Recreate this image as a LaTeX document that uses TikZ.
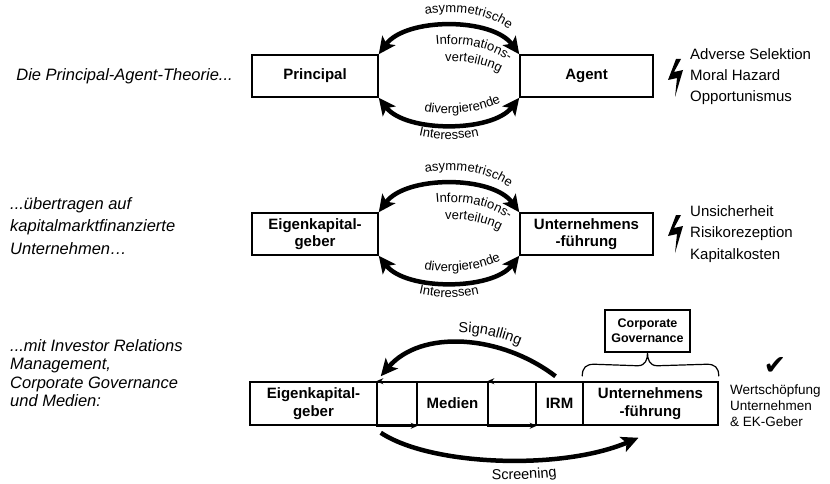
\documentclass[tikz,border=0pt]{standalone}
\usepackage{fontspec}
\setmainfont{Liberation Sans}
\newfontfamily\symfont{DejaVu Sans}
\usetikzlibrary{arrows.meta,decorations.text,calc}
\newcommand\lblfont{\fontsize{13}{13}\selectfont}
\newcommand\arcfont{\fontsize{14.5}{14.5}\selectfont}
\begin{document}
\begin{tikzpicture}[x=1pt,y=-1pt,
  box/.style={draw, line width=1.5pt, inner sep=0pt, align=center,
    font=\fontsize{15}{17.5}\bfseries\selectfont},
  bigarr/.style={line width=4.5pt, >={Stealth[length=17pt,width=16pt,inset=4pt]}},
  smallarr/.style={line width=1.5pt, -{Stealth[length=7pt,width=6pt]}},
  sidetext/.style={anchor=west, align=left, inner sep=0pt},
  lefttext/.style={align=left, inner sep=0pt, font=\fontsize{16.5}{20}\itshape\selectfont},
  lbolt/.pic={\fill (8,0) -- (13,0) -- (6,13) -- (15,11) -- (7,38) -- (9,19) -- (0,21) -- cycle;}
]
\useasboundingbox (0,0) rectangle (830,484);

% ---------- Row 1 ----------
\node[lefttext, anchor=east] (l1) at (233,76) {Die Principal-Agent-Theorie...};
\node[box, minimum width=126pt, minimum height=42pt] (p) at (315,76) {Principal};
\node[box, minimum width=133pt, minimum height=42pt] (a) at (586.5,76) {Agent};
\draw[bigarr,<->] (p.north east) .. controls +(27,-37) and +(-27,-37) .. (a.north west);
\draw[bigarr,<->] (p.south east) .. controls +(27,35) and +(-27,35) .. (a.south west);
\path[decorate, decoration={text along path, text={|\lblfont|asymmetrische}, text align={left indent=55pt}}]
  (378,40) .. controls (405,3) and (493,3) .. (520,40);
\path[decorate, decoration={text along path, text={|\lblfont|Informations-}, text align={left indent=66pt}}]
  (378,72) .. controls (405,35) and (493,35) .. (520,72);
\path[decorate, decoration={text along path, text={|\lblfont|verteilung}, text align={left indent=75pt}}]
  (378,89) .. controls (405,52) and (493,52) .. (520,89);
\path[decorate, decoration={text along path, text={|\lblfont|divergierende}, text align={left indent=53pt}}]
  (378,87) .. controls (405,122) and (493,122) .. (520,87);
\path[decorate, decoration={text along path, text={|\lblfont|Interessen}, text align=center}]
  (378,113) .. controls (405,148) and (493,148) .. (520,113);
\pic at (668,59) {lbolt};
\node[sidetext, font=\fontsize{15}{21}\selectfont] (r1) at (690,77) {Adverse Selektion\\Moral Hazard\\Opportunismus};

% ---------- Row 2 ----------
\node[lefttext, anchor=west] (l2) at (10,226) {...übertragen auf\\[2.5pt]kapitalmarktfinanzierte\\[2.5pt]Unternehmen…};
\node[box, minimum width=126pt, minimum height=42pt] (ek2) at (315,234) {Eigenkapital-\\geber};
\node[box, minimum width=133pt, minimum height=42pt] (uf2) at (586.5,234) {Unternehmens\\-führung};
\draw[bigarr,<->] (ek2.north east) .. controls +(27,-37) and +(-27,-37) .. (uf2.north west);
\draw[bigarr,<->] (ek2.south east) .. controls +(27,35) and +(-27,35) .. (uf2.south west);
\path[decorate, decoration={text along path, text={|\lblfont|asymmetrische}, text align={left indent=55pt}}]
  (378,198) .. controls (405,161) and (493,161) .. (520,198);
\path[decorate, decoration={text along path, text={|\lblfont|Informations-}, text align={left indent=66pt}}]
  (378,230) .. controls (405,193) and (493,193) .. (520,230);
\path[decorate, decoration={text along path, text={|\lblfont|verteilung}, text align={left indent=75pt}}]
  (378,247) .. controls (405,210) and (493,210) .. (520,247);
\path[decorate, decoration={text along path, text={|\lblfont|divergierende}, text align={left indent=53pt}}]
  (378,245) .. controls (405,280) and (493,280) .. (520,245);
\path[decorate, decoration={text along path, text={|\lblfont|Interessen}, text align=center}]
  (378,271) .. controls (405,306) and (493,306) .. (520,271);
\pic at (668,215) {lbolt};
\node[sidetext, font=\fontsize{15}{21.5}\selectfont] (r2) at (690,234) {Unsicherheit\\Risikorezeption\\Kapitalkosten};

% ---------- Row 3 ----------
\node[lefttext, anchor=west, font=\fontsize{16.5}{18.5}\itshape\selectfont] (l3) at (10,373) {...mit Investor Relations\\Management,\\Corporate Governance\\und Medien:};
\node[box, minimum width=127pt, minimum height=43pt] (ek3) at (313.5,403.5) {Eigenkapital-\\geber};
\node[box, minimum width=40pt, minimum height=43pt] (e1) at (397,403.5) {};
\node[box, minimum width=71pt, minimum height=43pt] (med) at (452.5,403.5) {Medien};
\node[box, minimum width=48pt, minimum height=43pt] (e2) at (512,403.5) {};
\node[box, minimum width=47pt, minimum height=43pt] (irm) at (559.5,403.5) {IRM};
\node[box, minimum width=135pt, minimum height=43pt] (uf3) at (650.5,403.5) {Unternehmens\\-führung};
\draw[smallarr] (e1.north east) -- (e1.north west);
\draw[smallarr] (e1.south west) -- (e1.south east);
\draw[smallarr] (e2.north east) -- (e2.north west);
\draw[smallarr] (e2.south west) -- (e2.south east);

\node[box, minimum width=85pt, minimum height=42pt, font=\fontsize{12.5}{15}\bfseries\selectfont] (cg) at (647.5,331) {Corporate\\Governance};
\draw[line width=1.2pt] ($(uf3.north west)+(0,-5)$) .. controls +(0,-9) and +(-8,0) .. ($(uf3.north west)+(12,-17)$)
  -- ($(cg.south)+(-10,13)$) .. controls +(8,0) and +(0,7) .. (cg.south)
  .. controls +(0,7) and +(-8,0) .. ($(cg.south)+(10,13)$)
  -- ($(uf3.north east)+(-12,-17)$) .. controls +(8,0) and +(0,-9) .. ($(uf3.north east)+(0,-5)$);

\coordinate (sigs) at ($(irm.north)+(-4,-5)$);
\coordinate (sige) at ($(ek3.north east)+(3,-5)$);
\draw[bigarr,->] (sigs) .. controls +(-55,-42) and +(40,-47) .. (sige);
\path[decorate, decoration={text along path, text={|\arcfont|Signalling}, text align={left indent=88pt}}]
  (380,366) .. controls (420,319) and (500,324) .. (555,366);

\coordinate (scs) at ($(ek3.south east)+(3,7)$);
\coordinate (sce) at ($(uf3.south)+(-12,12)$);
\draw[bigarr,->] (scs) .. controls +(50,33) and +(-78,33) .. (sce);
\path[decorate, decoration={text along path, text={|\arcfont|Screening}, text align={left indent=116pt}}]
  (380,452) .. controls (430,485) and (560,490) .. (638,457);

\node[inner sep=0pt, font=\symfont\fontsize{27}{27}\selectfont] (chk) at (775,366) {✔};
\node[sidetext, font=\fontsize{13.5}{16}\selectfont] (r3) at (730,406) {Wertschöpfung\\Unternehmen\\\& EK-Geber};
\end{tikzpicture}
\end{document}
